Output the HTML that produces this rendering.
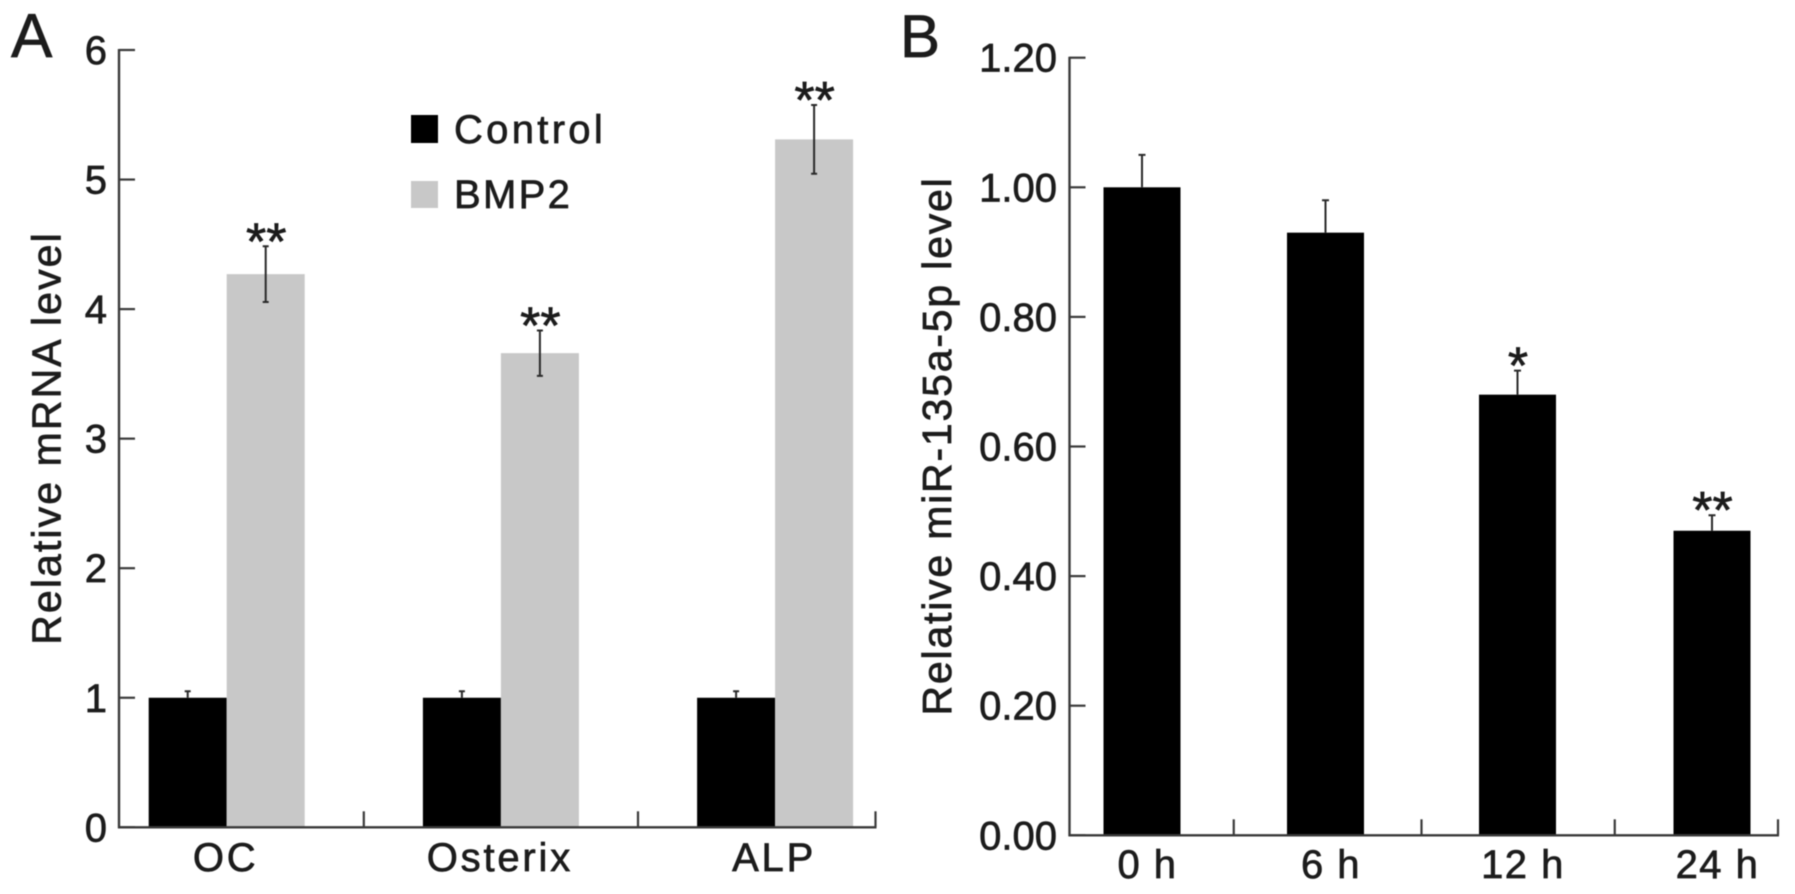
<!DOCTYPE html>
<html lang="en">
<head>
<meta charset="utf-8">
<title>Relative mRNA and miR-135a-5p levels</title>
<style>
  html, body { margin: 0; padding: 0; background: #fff; }
  body { width: 1795px; height: 894px; overflow: hidden; }
  svg { display: block; filter: blur(0.5px); }
  text { font-family: "Liberation Sans", sans-serif; fill: #1c1c1c; stroke: #1c1c1c; stroke-width: 0.7px; }
</style>
</head>
<body>
<svg id="figure" width="1795" height="894" viewBox="0 0 1795 894" xmlns="http://www.w3.org/2000/svg">
  <rect x="0" y="0" width="1795" height="894" fill="#ffffff"/>
  <text x="11" y="57" font-size="62">A</text>
  <text x="900" y="57" font-size="60">B</text>
  <text transform="translate(60.5,438) rotate(-90)" text-anchor="middle" font-size="41" letter-spacing="2.1">Relative mRNA level</text>
  <text transform="translate(951,446) rotate(-90)" text-anchor="middle" font-size="41" letter-spacing="1.8">Relative miR-135a-5p level</text>
  <g id="chart-a"></g>
  <g id="chart-b"></g>
  <g>
    <rect x="411" y="115" width="27" height="28" fill="#000000"/>
    <text x="454" y="143" font-size="40" letter-spacing="3.3">Control</text>
    <rect x="411" y="181" width="27" height="27" fill="#c8c8c8"/>
    <text x="454" y="208" font-size="40" letter-spacing="2.3">BMP2</text>
  </g>
</svg>
<script>
// Panel A data
const categoriesA = ['OC', 'Osterix', 'ALP'];
const controlValues = [1, 1, 1];
const controlErrors = [0.05, 0.05, 0.05];
const bmp2Values = [4.27, 3.66, 5.31];
const bmp2Errors = [0.215, 0.175, 0.265];
const bmp2Marks = ['**', '**', '**'];
const yTicksA = ['0', '1', '2', '3', '4', '5', '6'];

// Panel B data
const categoriesB = ['0 h', '6 h', '12 h', '24 h'];
const valuesB = [1.00, 0.93, 0.68, 0.47];
const errorsB = [0.05, 0.05, 0.037, 0.024];
const marksB = ['', '', '*', '**'];
const yTicksB = ['0.00', '0.20', '0.40', '0.60', '0.80', '1.00', '1.20'];

const NS = 'http://www.w3.org/2000/svg';
const AXIS_COLOR = '#3a3a3a';

function mk(parent, tag, attrs, text) {
  const node = document.createElementNS(NS, tag);
  for (const k in attrs) node.setAttribute(k, attrs[k]);
  if (text !== undefined) node.textContent = text;
  parent.appendChild(node);
  return node;
}

function slug(s) {
  return String(s).toLowerCase().replace(/[^a-z0-9]+/g, '-');
}

// Axis functions
const yA = v => 827.3 - (v / 6) * 777.3;
const yB = v => 835.3 - (v / 1.2) * 777.6;
const stepA = 274.2;
const xA = i => 226.7 + stepA * i;
// Panel B bands are hand-spaced in the figure, so each has a small nudge from even spacing.
const xB = i => 1142 + 190 * i + [0, -6.5, -4.5, 0][i];

function drawError(g, x, yTop, yBottom, capHalf, lowerCap, name) {
  let d = 'M' + (x - capHalf) + ' ' + yTop + 'H' + (x + capHalf) + 'M' + x + ' ' + yTop + 'V' + yBottom;
  if (lowerCap) d += 'M' + (x - capHalf) + ' ' + yBottom + 'H' + (x + capHalf);
  let el = mk(g, 'path', { d: d, stroke: '#2a2a2a', 'stroke-width': 2, fill: 'none' });
  
  
}

function drawMark(g, x, yTop, label, name) {
  if (!label) return;
  let el = mk(g, 'text', { x: x, y: yTop + 13, 'text-anchor': 'middle', 'font-size': 52 }, label);
  
  
}

function drawYAxis(g, x, y, ticks, yTop, yBottom, labelRight, panel) {
  let el = mk(g, 'line', { x1: x, x2: x, y1: yTop - 1, y2: yBottom + 1, stroke: AXIS_COLOR, 'stroke-width': 2.4 });
  
  
  ticks.forEach(t => {
    const v = parseFloat(t);
    let tick = mk(g, 'line', { x1: x, x2: x + 16, y1: y(v), y2: y(v), stroke: AXIS_COLOR, 'stroke-width': 2.2 });
    
    
    let label = mk(g, 'text', { x: labelRight, y: y(v) + 14, 'text-anchor': 'end', 'font-size': 40 }, t);
    
    
  });
}

function drawXAxisLine(g, xStart, xEnd, y, tickXs, panel) {
  let el = mk(g, 'line', { x1: xStart - 1, x2: xEnd + 1, y1: y, y2: y, stroke: AXIS_COLOR, 'stroke-width': 2.4 });
  
  
  tickXs.forEach((tx, i) => {
    let tick = mk(g, 'line', { x1: tx, x2: tx, y1: y - 16, y2: y, stroke: AXIS_COLOR, 'stroke-width': 2.2 });
    
    
  });
}

// Panel A
(function () {
  const g = document.getElementById('chart-a');
  const barW = 78;
  const axisEnd = 875.5;
  categoriesA.forEach((cat, i) => {
    const c = xA(i);
    let bar = mk(g, 'rect', { x: c - barW, y: yA(controlValues[i]), width: barW, height: yA(0) - yA(controlValues[i]), fill: '#000000' });
    
    
    bar = mk(g, 'rect', { x: c, y: yA(bmp2Values[i]), width: barW, height: yA(0) - yA(bmp2Values[i]), fill: '#c8c8c8' });
    
    
    drawError(g, c - barW / 2, yA(controlValues[i] + controlErrors[i]), yA(controlValues[i]), 3, false, 'error-bar-control-' + slug(cat));
    drawError(g, c + barW / 2, yA(bmp2Values[i] + bmp2Errors[i]), yA(bmp2Values[i] - bmp2Errors[i]), 3, true, 'error-bar-bmp2-' + slug(cat));
    drawMark(g, c + barW / 2 + 0.5, yA(bmp2Values[i] + bmp2Errors[i]), bmp2Marks[i], 'significance-bmp2-' + slug(cat));
    let label = mk(g, 'text', { x: c - 1, y: 871, 'text-anchor': 'middle', 'font-size': 40, 'letter-spacing': 2.8 }, cat);
    
    
  });
  const tickXs = categoriesA.map((_, i) => Math.min(xA(i) + stepA / 2, axisEnd));
  drawYAxis(g, 119, yA, yTicksA, yA(6), yA(0), 107, 'a');
  drawXAxisLine(g, 119, axisEnd, yA(0), tickXs, 'a');
})();

// Panel B
(function () {
  const g = document.getElementById('chart-b');
  const barW = 77;
  const axisEnd = 1778;
  categoriesB.forEach((cat, i) => {
    const c = xB(i);
    let bar = mk(g, 'rect', { x: c - barW / 2, y: yB(valuesB[i]), width: barW, height: yB(0) - yB(valuesB[i]), fill: '#000000' });
    
    
    drawError(g, c, yB(valuesB[i] + errorsB[i]), yB(valuesB[i]), 3.5, false, 'error-bar-' + slug(cat));
    drawMark(g, c + 0.5, yB(valuesB[i] + errorsB[i]), marksB[i], 'significance-' + slug(cat));
    let label = mk(g, 'text', { x: c + 5.5, y: 878, 'text-anchor': 'middle', 'font-size': 40, 'letter-spacing': 1.5 }, cat);
    
    
  });
  const tickXs = categoriesB.map((_, i) => i < categoriesB.length - 1 ? (xB(i) + xB(i + 1)) / 2 : axisEnd);
  drawYAxis(g, 1069.5, yB, yTicksB, yB(1.2), yB(0), 1057, 'b');
  drawXAxisLine(g, 1069.5, axisEnd, yB(0), tickXs, 'b');
})();
</script>
</body>
</html>
